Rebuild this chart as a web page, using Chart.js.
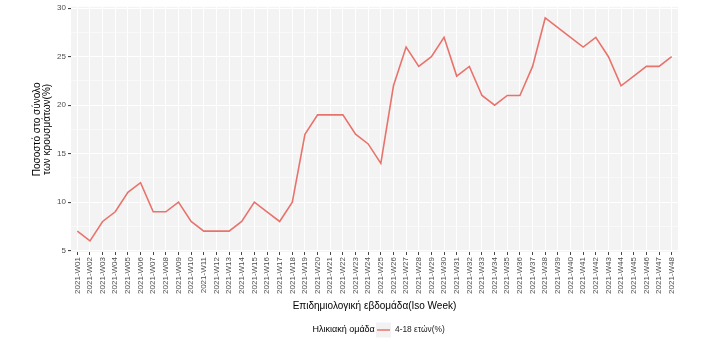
<!DOCTYPE html>
<html>
<head>
<meta charset="utf-8">
<script src="https://cdn.jsdelivr.net/npm/chart.js@4/dist/chart.umd.min.js"></script>
<style>
  html, body { margin: 0; padding: 0; background: #fff; }
  canvas { display: block; }
</style>
</head>
<body>
<canvas id="chart" width="723" height="353"></canvas>
<script>
var weeks = [];
for (var w = 1; w <= 48; w++) {
    weeks.push('2021-W' + (w < 10 ? '0' + w : w));
}

var share_4_18 = [7, 6, 8, 9, 11, 12, 9, 9, 10, 8, 7, 7, 7, 8, 10, 9, 8, 10, 17, 19,
                  19, 19, 17, 16, 14, 22, 26, 24, 25, 27, 23, 24, 21, 20, 21, 21, 24, 29, 28, 27,
                  26, 27, 25, 22, 23, 24, 24, 25];

var y_breaks = [5, 7.5, 10, 12.5, 15, 17.5, 20, 22.5, 25, 27.5, 30];

var series_label = '4-18 ετών(%)';
var legend_title = 'Ηλικιακή ομάδα';
var x_title = 'Επιδημιολογική εβδομάδα(Iso Week)';
var y_title = ['Ποσοστό στο σύνολο', 'των κρουσμάτων(%)'];

var line_colour = '#E8736C';
var font_family = '"Liberation Sans", Arial, sans-serif';

// grey panel behind the plot, like ggplot
var panel_bg = {
    id: 'panel_bg',
    beforeDraw: function(chart) {
        var a = chart.chartArea, ctx = chart.ctx;
        ctx.save();
        ctx.fillStyle = '#F3F3F3';
        ctx.fillRect(a.left, a.top, a.right - a.left, a.bottom - a.top);
        ctx.restore();
    }
};

// legend drawn under the axis title, ggplot style
var bottom_legend = {
    id: 'bottom_legend',
    afterDraw: function(chart) {
        var ctx = chart.ctx;
        var y = 330;
        ctx.save();
        ctx.textBaseline = 'middle';
        ctx.fillStyle = '#000';
        ctx.font = '9px ' + font_family;
        ctx.textAlign = 'left';
        ctx.fillText(legend_title, 312.5, y);
        ctx.fillStyle = '#F2F2F2';
        ctx.fillRect(376, y - 7.5, 15, 15);
        ctx.strokeStyle = chart.data.datasets[0].borderColor;
        ctx.lineWidth = 1.5;
        ctx.beginPath();
        ctx.moveTo(377, y);
        ctx.lineTo(390, y);
        ctx.stroke();
        ctx.fillStyle = '#222';
        ctx.font = '8.4px ' + font_family;
        ctx.fillText(chart.data.datasets[0].label, 395, y);
        ctx.restore();
    }
};

function is_major(v) {
    return Math.abs(v % 5) < 1e-6;
}

new Chart(document.getElementById('chart'), {
    type: 'line',
    data: {
        labels: weeks,
        datasets: [{
            label: series_label,
            data: share_4_18,
            borderColor: line_colour,
            borderWidth: 1.6,
            pointRadius: 0,
            tension: 0,
            fill: false
        }]
    },
    options: {
        responsive: false,
        animation: false,
        devicePixelRatio: 1,
        layout: { padding: { left: 0, top: 4, right: 45, bottom: 41 } },
        plugins: {
            legend: { display: false },
            tooltip: { enabled: false }
        },
        scales: {
            x: {
                offset: true,
                border: { display: false },
                grid: {
                    color: '#FFFFFF',
                    lineWidth: 1,
                    tickColor: '#444',
                    tickLength: 3,
                    drawTicks: true
                },
                ticks: {
                    autoSkip: false,
                    minRotation: 90,
                    maxRotation: 90,
                    padding: 2,
                    color: '#4D4D4D',
                    font: { family: font_family, size: 8 }
                },
                title: {
                    display: true,
                    text: x_title,
                    color: '#000',
                    font: { family: font_family, size: 10 },
                    padding: { top: 6, bottom: 0 }
                },
                afterFit: function(scale) { scale.height = 60; }
            },
            y: {
                min: 4.85,
                max: 30.15,
                border: { display: false },
                afterBuildTicks: function(scale) {
                    scale.ticks = y_breaks.map(function(v) { return { value: v }; });
                },
                grid: {
                    color: '#FFFFFF',
                    lineWidth: function(ctx) { return ctx.tick && is_major(ctx.tick.value) ? 1.1 : 0.5; },
                    tickColor: function(ctx) { return ctx.tick && is_major(ctx.tick.value) ? '#444' : 'rgba(0,0,0,0)'; },
                    tickLength: 3,
                    drawTicks: true
                },
                ticks: {
                    padding: 2,
                    color: '#4D4D4D',
                    font: { family: font_family, size: 8 },
                    callback: function(v) { return is_major(v) ? v : ''; }
                },
                title: {
                    display: true,
                    text: y_title,
                    color: '#000',
                    font: { family: font_family, size: 10, lineHeight: 1.0 },
                    padding: { top: 32, bottom: 0 }
                },
                afterFit: function(scale) { scale.width = 71; }
            }
        }
    },
    plugins: [panel_bg, bottom_legend]
});
</script>
</body>
</html>
